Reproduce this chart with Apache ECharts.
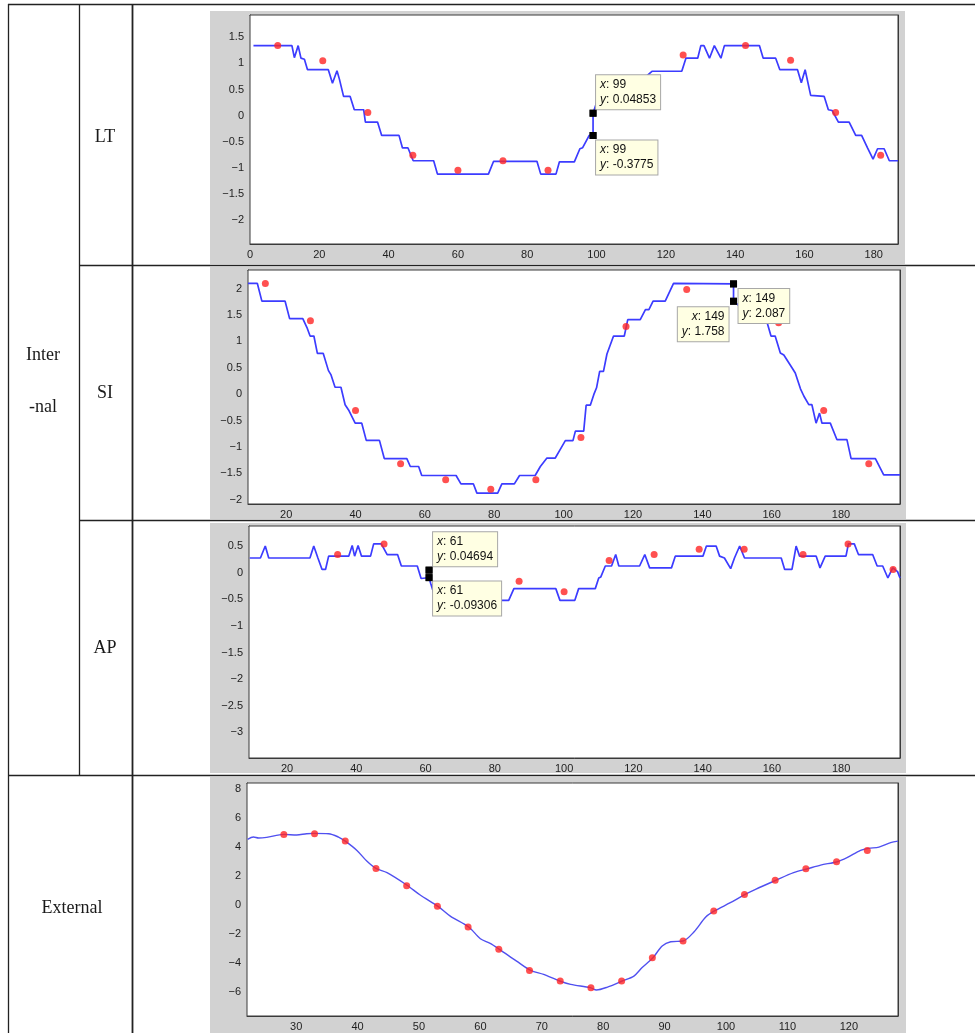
<!DOCTYPE html>
<html><head><meta charset="utf-8">
<script src="https://cdn.jsdelivr.net/npm/echarts@6/dist/echarts.min.js"></script>
<style>html,body{margin:0;padding:0;background:#fff}#c{width:975px;height:1033px}</style>
</head><body><div id="c"></div>
<script>
// ---------- DATA ----------
const ltLine = [[1,1.34],[12.1,1.34],[12.8,1.11],[13.9,1.34],[14.7,1.1],[15.7,1.08],[16.6,0.88],[22.6,0.88],[23.8,0.62],[25.1,0.86],[25.8,0.7],[27,0.37],[28.9,0.37],[30.1,0.115],[32.8,0.115],[33.3,-0.12],[36.8,-0.12],[38,-0.375],[43,-0.375],[44,-0.615],[45.6,-0.615],[47.1,-0.86],[53,-0.86],[54.1,-1.115],[68.8,-1.115],[70.3,-0.87],[82.8,-0.87],[83.9,-1.115],[88.3,-1.115],[89.3,-0.88],[93.6,-0.88],[95.2,-0.63],[96,-0.61],[97.9,-0.375],[99,-0.3775],[99,0.04853],[101.5,0.55],[104,0.62],[112,0.62],[116,0.85],[124.6,0.85],[125.8,1.1],[129.2,1.1],[130.1,1.34],[131,1.34],[132.6,1.1],[134,1.34],[135.9,1.1],[136.9,1.34],[147,1.34],[148.1,1.1],[151.7,1.1],[152.9,0.88],[158,0.88],[159.1,0.63],[160.2,0.88],[161.8,0.39],[165.7,0.37],[166.9,0.115],[168,0.1],[169.8,-0.12],[172.9,-0.12],[174.8,-0.375],[176.5,-0.375],[178.2,-0.615],[179.8,-0.83],[181.1,-0.63],[183,-0.63],[184.5,-0.86],[187,-0.86]];
const ltMarks = [[8,1.34],[21,1.05],[34,0.06],[47,-0.755],[60,-1.04],[73,-0.86],[86,-1.04],[125,1.16],[143,1.34],[156,1.06],[169,0.06],[182,-0.755]];
const ltTips = [[99,0.04853],[99,-0.3775]];

const siLine = [[9,2.095],[11.7,2.095],[13,1.76],[19.7,1.76],[21,1.43],[24.8,1.43],[26,1.26],[26.9,1.1],[28,1.1],[29,0.77],[30.7,0.77],[32.2,0.445],[32.9,0.37],[34.1,0.13],[35.8,0.13],[37,-0.2],[38,-0.3],[39.9,-0.55],[41.8,-0.55],[43.1,-0.875],[46.9,-0.875],[48.3,-1.22],[54.8,-1.22],[55.8,-1.37],[58.2,-1.37],[59.1,-1.54],[69,-1.54],[70.4,-1.7],[74,-1.7],[75,-1.875],[81,-1.875],[82.2,-1.7],[85.8,-1.7],[87.3,-1.54],[91.8,-1.54],[93.3,-1.37],[95.2,-1.21],[97.6,-1.21],[99,-1.05],[100.5,-0.88],[102.7,-0.88],[103.4,-0.7],[105.8,-0.7],[106.5,-0.21],[107.7,-0.21],[108.7,-0.01],[109.5,0.12],[110.4,0.43],[111.5,0.43],[112.5,0.76],[114.4,1.1],[117.5,1.1],[118.5,1.41],[122.1,1.41],[123.6,1.6],[124.6,1.6],[125.8,1.76],[129.3,1.76],[131.7,2.095],[149,2.087],[149,1.758],[152,1.6],[156,1.45],[158.7,1.35],[159.8,1.1],[161,1.1],[162.5,0.78],[163.5,0.74],[165.9,0.495],[166.8,0.4],[168.3,0.1],[169.3,-0.04],[170.7,-0.2],[171.6,-0.2],[172.8,-0.55],[173.8,-0.36],[174.5,-0.55],[176.9,-0.55],[178.8,-0.86],[181.7,-0.86],[182.9,-1.22],[189.9,-1.22],[192.3,-1.53],[197,-1.53]];
const siMarks = [[14,2.095],[27,1.39],[40,-0.31],[53,-1.32],[66,-1.62],[79,-1.8],[92,-1.62],[105,-0.82],[118,1.28],[135.5,1.98],[162,1.35],[175,-0.31],[188,-1.32]];
const siTips = [[149,2.087],[149,1.758]];

const apLine = [[9.2,0.275],[12.3,0.275],[13.7,0.5],[14.7,0.275],[26.6,0.275],[27.7,0.5],[28.9,0.275],[30.1,0.06],[31.1,0.06],[32,0.31],[37.8,0.31],[38.8,0.51],[39.5,0.31],[40.5,0.51],[41.5,0.31],[44.1,0.31],[45,0.54],[47.2,0.54],[48.9,0.34],[51.9,0.34],[53,0.125],[57.6,0.125],[58.7,-0.11],[60,-0.1],[61,-0.09306],[61.5,-0.21],[63,-0.52],[84,-0.52],[85.5,-0.3],[97.6,-0.3],[98.8,-0.52],[103.1,-0.52],[104.2,-0.3],[109,-0.3],[110,-0.1],[110.6,-0.08],[111.9,0.125],[113.7,0.125],[114.9,0.34],[115.8,0.125],[121.8,0.125],[123.3,0.34],[124.7,0.09],[131,0.09],[132.1,0.31],[140.1,0.31],[141.1,0.5],[143.9,0.5],[144.9,0.31],[146.3,0.275],[148.1,0.075],[149.2,0.275],[150.7,0.5],[152.1,0.275],[162.7,0.275],[163.7,0.06],[165.8,0.06],[166.4,0.275],[167,0.5],[168,0.31],[172.8,0.31],[173.9,0.09],[175.4,0.31],[181.4,0.31],[182.1,0.54],[183.8,0.54],[185,0.34],[189.1,0.34],[190.4,0.125],[192,0.125],[193.5,-0.1],[194.9,0.09],[196.3,0.02],[197,-0.1]];
const apMarks = [[34.6,0.34],[48,0.54],[87,-0.16],[100,-0.36],[113,0.23],[126,0.34],[139,0.44],[152,0.44],[169,0.34],[182,0.54],[195,0.06]];
const apTips = [[61,0.04694],[61,-0.09306]];

const extLine = [[22.1,4.51],[23.05,4.67],[23.9,4.6],[25.2,4.65],[28,4.85],[30.1,4.81],[31.7,4.9],[32.9,4.92],[35.3,4.9],[36.9,4.67],[38,4.39],[39.9,3.75],[41.5,3.02],[43,2.51],[44.8,2.22],[48,1.37],[50.2,0.68],[53.1,-0.1],[55.1,-0.77],[58.1,-1.52],[60,-2.33],[61.6,-2.65],[63.1,-3.06],[65.9,-3.87],[68.2,-4.51],[70.3,-4.79],[72.9,-5.24],[74.7,-5.47],[77.9,-5.7],[78.9,-5.86],[80.7,-5.66],[83.1,-5.24],[85,-4.9],[86.3,-4.33],[88.1,-3.64],[89.6,-2.83],[91,-2.54],[93,-2.49],[94.8,-1.85],[96.7,-0.84],[98.1,-0.42],[100.7,0.15],[103.1,0.72],[104.8,1.07],[108.1,1.69],[111,2.22],[113.3,2.49],[115.4,2.74],[118.1,2.97],[119.7,3.25],[121.9,3.75],[123.2,3.89],[124.9,3.98],[126.8,4.28],[128,4.39]];
const extMarks = [[28,4.85],[33,4.9],[38,4.39],[43,2.51],[48,1.32],[53,-0.1],[58,-1.52],[63,-3.06],[68,-4.51],[73,-5.24],[78,-5.7],[83,-5.24],[88,-3.64],[93,-2.49],[98,-0.42],[103,0.72],[108,1.69],[113,2.49],[118,2.97],[123,3.75]];

const ltXTicks = [0,20,40,60,80,100,120,140,160,180];
const ltYTicks = [-2,-1.5,-1,-0.5,0,0.5,1,1.5];
const siXTicks = [20,40,60,80,100,120,140,160,180];
const siYTicks = [-2,-1.5,-1,-0.5,0,0.5,1,1.5,2];
const apXTicks = [20,40,60,80,100,120,140,160,180];
const apYTicks = [-3,-2.5,-2,-1.5,-1,-0.5,0,0.5];
const extXTicks = [30,40,50,60,70,80,90,100,110,120];
const extYTicks = [-6,-4,-2,0,2,4,6,8];

const rowLabels = ['LT','SI','AP'];
const groupLabels = ['Inter','-nal','External'];

// ---------- LAYOUT / STYLE ----------
const panels = [
  {grid:{left:250,top:15,width:648,height:229}, x:[0,187], y:[-2.45,1.925], xt:ltXTicks, yt:ltYTicks, line:ltLine, marks:ltMarks, tips:ltTips, smooth:false, lw:1.7, lc:'#3c3cff',
   tipPos:[{dx:3,dy:-38,align:'left'},{dx:3,dy:5,align:'left'}], gray:[210,11,695,253]},
  {grid:{left:248,top:270,width:652,height:234}, x:[9,197], y:[-2.08,2.35], xt:siXTicks, yt:siYTicks, line:siLine, marks:siMarks, tips:siTips, smooth:false, lw:1.7, lc:'#3c3cff',
   tipPos:[{dx:5,dy:5,align:'left'},{dx:-5,dy:6,align:'right'}], gray:[210,267,696,252]},
  {grid:{left:249,top:526,width:651,height:232}, x:[9,197], y:[-3.48,0.876], xt:apXTicks, yt:apYTicks, line:apLine, marks:apMarks, tips:apTips, smooth:false, lw:1.7, lc:'#3c3cff',
   tipPos:[{dx:4,dy:-38,align:'left'},{dx:4,dy:4,align:'left'}], gray:[210,523,696,250]},
  {grid:{left:247,top:783,width:651,height:233}, x:[22,128], y:[-7.65,8.39], xt:extXTicks, yt:extYTicks, line:extLine, marks:extMarks, tips:[], smooth:0.3, lw:1.4, lc:'#5050f0',
   tipPos:[], gray:[210,777,696,256]}
];

const fmt = v => String(v).replace('-', '\u2212');
const axColor = '#3a3a3a';
const sansFont = 'Liberation Sans, Arial, sans-serif';
const labelStyle = {color:'#1e1e1e', fontSize:11, fontFamily:sansFont};

const grids = [], xAxes = [], yAxes = [], series = [];
panels.forEach((p, i) => {
  grids.push(Object.assign({show:true, backgroundColor:'#fff', borderColor:axColor, borderWidth:1, z:1}, p.grid));
  ['bottom','top'].forEach((pos, k) => xAxes.push({
    type:'value', gridIndex:i, position:pos, min:p.x[0], max:p.x[1],
    axisLine:{show:true, onZero:false, lineStyle:{color:axColor, width:1}},
    axisTick:{show:true, inside:true, length:5, customValues:p.xt, lineStyle:{color:axColor}},
    axisLabel:Object.assign({show:k===0, customValues:p.xt, margin:5, formatter:fmt}, labelStyle),
    splitLine:{show:false}
  }));
  ['left','right'].forEach((pos, k) => yAxes.push({
    type:'value', gridIndex:i, position:pos, min:p.y[0], max:p.y[1],
    axisLine:{show:true, onZero:false, lineStyle:{color:axColor, width:1}},
    axisTick:{show:true, inside:true, length:5, customValues:p.yt, lineStyle:{color:axColor}},
    axisLabel:Object.assign({show:k===0, customValues:p.yt, margin:6, formatter:fmt}, labelStyle),
    splitLine:{show:false}
  }));
  series.push({
    type:'line', xAxisIndex:2*i, yAxisIndex:2*i, data:p.line, showSymbol:false, symbol:'none',
    smooth:p.smooth, lineStyle:{color:p.lc, width:p.lw}, z:2, silent:true
  });
  series.push({
    type:'scatter', xAxisIndex:2*i, yAxisIndex:2*i, data:p.marks, symbol:'circle', symbolSize:7,
    itemStyle:{color:'#ff2424'}, z:3, silent:true
  });
  if (p.tips.length) {
    series.push({
      type:'scatter', xAxisIndex:2*i, yAxisIndex:2*i, symbol:'rect', symbolSize:7, z:6, silent:true,
      itemStyle:{color:'#000'}, data:p.tips
    });
  }
});

// table decoration
const lineEl = (x1,y1,x2,y2,w) => ({type:'line', z:-20, silent:true, shape:{x1,y1,x2,y2}, style:{stroke:'#222', lineWidth:w||1.3}});
const textEl = (t,x,y) => ({type:'text', z:5, silent:true, x:x, y:y,
  style:{text:t, font:'18px "Liberation Serif", "Times New Roman", serif', fill:'#1a1a1a', align:'center', verticalAlign:'middle', textAlign:'center', textVerticalAlign:'middle'}});
const graphics = [
  lineEl(8,4.5,975,4.5), lineEl(8.5,4,8.5,1033), lineEl(79.5,4,79.5,775), lineEl(132.5,4,132.5,1033,1.8),
  lineEl(79,265.5,975,265.5), lineEl(79,520.5,975,520.5), lineEl(8,775.5,975,775.5)
];
panels.forEach(p => graphics.push({type:'rect', z:-10, silent:true, shape:{x:p.gray[0], y:p.gray[1], width:p.gray[2], height:p.gray[3]}, style:{fill:'#d2d2d2'}}));
graphics.push(textEl(rowLabels[0],105,137), textEl(rowLabels[1],105,393), textEl(rowLabels[2],105,648));
graphics.push(textEl(groupLabels[0],43,355), textEl(groupLabels[1],43,407), textEl(groupLabels[2],72,908));

const chart = echarts.init(document.getElementById('c'), null, {renderer:'canvas'});
chart.setOption({
  animation:false, backgroundColor:'#fff',
  grid:grids, xAxis:xAxes, yAxis:yAxes, series:series,
  graphic:{elements:graphics}
});

// data tips: boxes anchored at points converted through the chart's own scales
const tipEls = [];
panels.forEach((p, i) => {
  p.tips.forEach((t, j) => {
    const pt = chart.convertToPixel({gridIndex:i}, t);
    const pl = p.tipPos[j];
    tipEls.push({
      type:'text', z:100, silent:true, x:pt[0] + pl.dx, y:pt[1] + pl.dy,
      style:{
        text:'{i|x}: ' + t[0] + '\n{i|y}: ' + t[1],
        font:'12px ' + sansFont, fill:'#111', lineHeight:15,
        align:pl.align, verticalAlign:'top', textAlign:pl.align, textVerticalAlign:'top',
        backgroundColor:'#ffffe3', borderColor:'#a8a8a8', borderWidth:1, padding:[2,4,2,4],
        rich:{i:{fontStyle:'italic', font:'italic 12px ' + sansFont, lineHeight:15, fill:'#111'}}
      }
    });
    tipEls.push({
      type:'rect', z:101, silent:true, shape:{x:pt[0]-3.5, y:pt[1]-3.5, width:7, height:7}, style:{fill:'#000'}
    });
  });
});
chart.setOption({graphic:{elements:graphics.concat(tipEls)}});
</script></body></html>
